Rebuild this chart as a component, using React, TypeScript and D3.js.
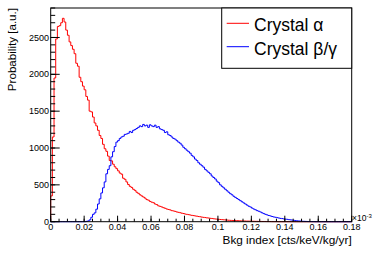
import React from "react";
import * as d3 from "d3";

// bin width of both histograms
const binWidth = 0.001;
const nBins = 180;

// Crystal alpha: bins starting at 0.000
const alphaStart = 0;
const alphaValues = [
  350, 1150, 1950, 2480, 2650, 2660, 2700, 2760, 2710, 2600,
  2530, 2440, 2390, 2340, 2280, 2150, 2110, 1960, 1900, 1840,
  1790, 1700, 1650, 1500, 1490, 1420, 1340, 1300, 1240, 1170,
  1130, 1050, 990, 955, 890, 830, 825, 780, 745, 720,
  690, 660, 645, 590, 575, 540, 505, 480, 465, 440,
  425, 400, 385, 365, 350, 335, 320, 300, 292, 275,
  265, 258, 240, 232, 215, 208, 200, 190, 182, 172,
  166, 160, 150, 146, 140, 132, 127, 122, 115, 111,
  104, 100, 96, 91, 86, 83, 78, 75, 70, 67,
  62, 59, 56, 52, 50, 46, 44, 40, 37, 35,
  32, 30, 28, 26, 24, 22, 20, 18, 17, 16,
  15, 14, 13, 12, 11, 10, 9, 8, 8, 7,
  6, 6, 5, 5, 4, 4, 3, 3, 3, 2,
  2, 2, 1, 1, 1, 1,
];

// Crystal beta/gamma: bins starting at 0.020
const betaStart = 20;
const betaValues = [
  0, 5, 10, 25, 60, 100, 120, 170, 240, 310,
  390, 460, 540, 650, 710, 760, 880, 950, 1020, 1080,
  1100, 1130, 1150, 1160, 1185, 1190, 1200, 1225, 1210, 1240,
  1250, 1265, 1280, 1300, 1290, 1320, 1300, 1310, 1280, 1315,
  1300, 1290, 1310, 1280, 1290, 1260, 1250, 1240, 1210, 1220,
  1180, 1170, 1150, 1130, 1120, 1100, 1080, 1065, 1040, 1010,
  990, 970, 950, 930, 900, 880, 850, 830, 800, 780,
  760, 740, 710, 690, 670, 650, 620, 600, 580, 550,
  530, 500, 480, 460, 440, 420, 400, 380, 365, 345,
  330, 315, 300, 285, 270, 255, 240, 225, 210, 200,
  185, 172, 162, 150, 142, 132, 120, 110, 100, 92,
  84, 78, 70, 64, 60, 55, 50, 45, 42, 38,
  35, 32, 28, 25, 22, 18, 15, 12, 10, 8,
  6, 5, 4, 3, 2, 2, 1, 1,
];

const xMajor = [0, 0.02, 0.04, 0.06, 0.08, 0.1, 0.12, 0.14, 0.16, 0.18];
const yMajor = [0, 500, 1000, 1500, 2000, 2500];

const legendItems = [
  { label: "Crystal α", color: "#ff0000" },
  { label: "Crystal β/γ", color: "#0000ff" },
];

const font = "'Liberation Sans', Arial, Helvetica, sans-serif";

function histPoints(start: number, values: number[]): [number, number][] {
  const full = new Array(nBins).fill(0);
  values.forEach((v, i) => {
    full[start + i] = v;
  });
  const pts: [number, number][] = [[0, 0]];
  full.forEach((v, i) => pts.push([i * binWidth, v]));
  pts.push([nBins * binWidth, 0]);
  return pts;
}

export default function App() {
  const left = 50.7;
  const right = 351.7;
  const top = 8;
  const bottom = 221.7;

  const x = d3.scaleLinear().domain([0, 0.18]).range([left, right]);
  const y = d3.scaleLinear().domain([0, 2900]).range([bottom, top]);

  const line = d3
    .line<[number, number]>()
    .x((d) => x(d[0]))
    .y((d) => y(d[1]))
    .curve(d3.curveStepAfter);

  const xMinor = d3.range(0, 0.1801, 0.005);
  const yMinor = d3.range(0, 2901, 100);

  return (
    <svg
      width={374}
      height={255}
      style={{ position: "absolute", left: 0, top: 0, background: "#fff" }}
      fontFamily={font}
    >
      <rect x={0} y={0} width={374} height={255} fill="#fff" />

      {/* histograms */}
      <path
        d={line(histPoints(alphaStart, alphaValues)) || ""}
        fill="none"
        stroke="#ff0000"
        strokeWidth={1}
      />
      <path
        d={line(histPoints(betaStart, betaValues)) || ""}
        fill="none"
        stroke="#0000ff"
        strokeWidth={1}
      />

      {/* frame */}
      <rect
        x={left}
        y={top}
        width={right - left}
        height={bottom - top}
        fill="none"
        stroke="#000"
        strokeWidth={1}
      />

      {/* x axis ticks */}
      {xMinor.map((t, i) => (
        <line key={"xm" + i} x1={x(t)} x2={x(t)} y1={bottom} y2={bottom - 3} stroke="#000" />
      ))}
      {xMajor.map((t) => (
        <g key={"x" + t}>
          <line x1={x(t)} x2={x(t)} y1={bottom} y2={bottom - 6} stroke="#000" />
          <text x={x(t)} y={230} textAnchor="middle" fontSize={9}>
            {t === 0 ? "0" : String(t)}
          </text>
        </g>
      ))}
      <text x={352} y={221} fontSize={8.5}>
        ×10
        <tspan dy={-3.5} fontSize={6}>
          -3
        </tspan>
      </text>

      {/* y axis ticks */}
      {yMinor.map((t) => (
        <line key={"ym" + t} x1={left} x2={left + 4.5} y1={y(t)} y2={y(t)} stroke="#000" />
      ))}
      {yMajor.map((t) => (
        <g key={"y" + t}>
          <line x1={left} x2={left + 9} y1={y(t)} y2={y(t)} stroke="#000" />
          <text x={49} y={y(t)} dy="0.35em" textAnchor="end" fontSize={9}>
            {t}
          </text>
        </g>
      ))}

      {/* axis titles */}
      <text x={right} y={244.3} textAnchor="end" fontSize={11.8}>
        Bkg index [cts/keV/kg/yr]
      </text>
      <text
        transform={`translate(16,${top}) rotate(-90)`}
        textAnchor="end"
        fontSize={11.6}
      >
        Probability [a.u.]
      </text>

      {/* legend */}
      <rect x={221.7} y={top} width={right - 221.7} height={60.3} fill="#fff" stroke="#000" />
      {legendItems.map((d, i) => (
        <g key={d.label}>
          <line x1={226.7} x2={249} y1={23.3 + i * 23.4} y2={23.3 + i * 23.4} stroke={d.color} />
          <text x={254} y={30.7 + i * 24.3} fontSize={17.5}>
            {d.label}
          </text>
        </g>
      ))}
    </svg>
  );
}
